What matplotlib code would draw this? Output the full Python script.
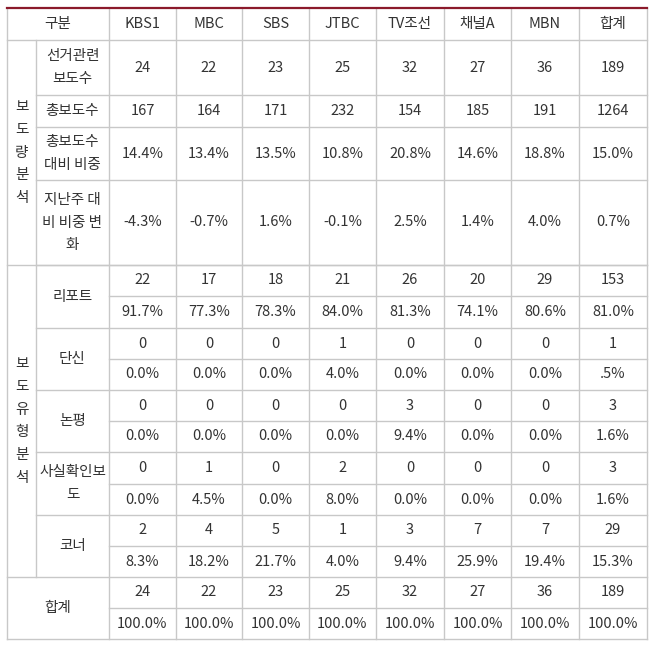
import matplotlib.pyplot as plt

plt.rcParams['font.family'] = ['Noto Sans CJK KR', 'DejaVu Sans']

channels = ['KBS1', 'MBC', 'SBS', 'JTBC', 'TV조선', '채널A', 'MBN', '합계']
election = ['24', '22', '23', '25', '32', '27', '36', '189']
total = ['167', '164', '171', '232', '154', '185', '191', '1264']
share = ['14.4%', '13.4%', '13.5%', '10.8%', '20.8%', '14.6%', '18.8%', '15.0%']
change = ['-4.3%', '-0.7%', '1.6%', '-0.1%', '2.5%', '1.4%', '4.0%', '0.7%']
report_n = ['22', '17', '18', '21', '26', '20', '29', '153']
report_p = ['91.7%', '77.3%', '78.3%', '84.0%', '81.3%', '74.1%', '80.6%', '81.0%']
brief_n = ['0', '0', '0', '1', '0', '0', '0', '1']
brief_p = ['0.0%', '0.0%', '0.0%', '4.0%', '0.0%', '0.0%', '0.0%', '.5%']
comment_n = ['0', '0', '0', '0', '3', '0', '0', '3']
comment_p = ['0.0%', '0.0%', '0.0%', '0.0%', '9.4%', '0.0%', '0.0%', '1.6%']
fact_n = ['0', '1', '0', '2', '0', '0', '0', '3']
fact_p = ['0.0%', '4.5%', '0.0%', '8.0%', '0.0%', '0.0%', '0.0%', '1.6%']
corner_n = ['2', '4', '5', '1', '3', '7', '7', '29']
corner_p = ['8.3%', '18.2%', '21.7%', '4.0%', '9.4%', '25.9%', '19.4%', '15.3%']
sum_n = ['24', '22', '23', '25', '32', '27', '36', '189']
sum_p = ['100.0%'] * 8

fig = plt.figure(figsize=(6.58, 6.48), dpi=100)
ax = fig.add_axes([0, 0, 1, 1])
ax.set_xlim(0, 658)
ax.set_ylim(648, 0)
ax.axis('off')

lc = '#c8c8c8'
tc = '#333333'
fs = 10.5

xs = [7, 36, 109, 176, 242, 309, 376, 444, 511, 579, 647]
# row boundaries
y_top = [8, 40, 95, 127, 180, 265]
y_low = [265, 296, 328, 359, 390, 421, 452, 484, 515, 546, 577, 608, 639]

def hline(y, x0, x1):
    ax.plot([x0, x1], [y, y], color=lc, lw=1)

def vline(x, y0, y1):
    ax.plot([x, x], [y0, y1], color=lc, lw=1)

def txt(x, y, s, **kw):
    ax.text(x, y, s, ha='center', va='center', fontsize=fs, color=tc, **kw)

# outer frame
vline(xs[0], 8, 639)
vline(xs[-1], 8, 639)
hline(639, xs[0], xs[-1])
# header
hline(40, xs[0], xs[-1])
for x in xs[2:-1]:
    vline(x, 8, 639)
vline(xs[1], 40, 577)
# top section rows
for y in y_top[2:]:
    hline(y, xs[1], xs[-1])
hline(265, xs[0], xs[-1])
# lower section rows
for i, y in enumerate(y_low[1:-1], start=1):
    if i % 2 == 0:
        x0 = xs[0] if y == 577 else xs[1]
    else:
        x0 = xs[2]
    hline(y, x0, xs[-1])
ax.plot([xs[0], xs[-1]], [8, 8], color='#8b1a2b', lw=1.6)

cx = [(xs[i] + xs[i + 1]) / 2 for i in range(2, 10)]

txt((xs[0] + xs[2]) / 2, 24, '구분')
for x, c in zip(cx, channels):
    txt(x, 24, c)

labels_top = ['선거관련\n보도수', '총보도수', '총보도수\n대비 비중', '지난주 대\n비 비중 변\n화']
rows_top = [election, total, share, change]
for i, (lab, vals) in enumerate(zip(labels_top, rows_top)):
    ym = (y_top[i + 1] + y_top[i + 2]) / 2
    txt((xs[1] + xs[2]) / 2, ym, lab, linespacing=1.8)
    for x, v in zip(cx, vals):
        txt(x, ym, v)

txt((xs[0] + xs[1]) / 2, (40 + 265) / 2, '\n'.join('보도량분석'), linespacing=1.8)
txt((xs[0] + xs[1]) / 2, (265 + 577) / 2, '\n'.join('보도유형분석'), linespacing=1.8)

labels_low = ['리포트', '단신', '논평', '사실확인보\n도', '코너', '합계']
rows_low = [(report_n, report_p), (brief_n, brief_p), (comment_n, comment_p),
            (fact_n, fact_p), (corner_n, corner_p), (sum_n, sum_p)]
for i, (lab, (n, p)) in enumerate(zip(labels_low, rows_low)):
    y0, y1, y2 = y_low[2 * i], y_low[2 * i + 1], y_low[2 * i + 2]
    lx = (xs[0] + xs[2]) / 2 if lab == '합계' else (xs[1] + xs[2]) / 2
    txt(lx, (y0 + y2) / 2, lab, linespacing=1.8)
    for x, a, b in zip(cx, n, p):
        txt(x, (y0 + y1) / 2, a)
        txt(x, (y1 + y2) / 2, b)

fig.savefig('out.png', dpi=100, facecolor='white')
